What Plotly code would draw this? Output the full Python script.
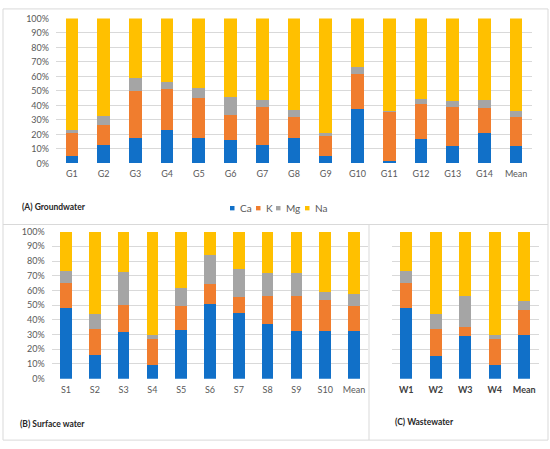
import plotly.graph_objects as go

# ----------------------------
# Data (percent share of each cation)
# ----------------------------
ions = ["Ca", "K", "Mg", "Na"]
colors = {"Ca": "#1170C8", "K": "#F07D2E", "Mg": "#A5A5A5", "Na": "#FFC000"}

gw_sites = ["G1", "G2", "G3", "G4", "G5", "G6", "G7", "G8", "G9", "G10",
            "G11", "G12", "G13", "G14", "Mean"]
gw_ca = [5.4, 12.5, 17.7, 22.9, 17.3, 15.9, 12.6, 17.3, 5.4, 37.2, 1.6, 17.0, 12.1, 21.0, 12.3]
gw_k = [15.6, 14.2, 32.1, 28.4, 27.5, 17.5, 26.2, 15.0, 13.6, 24.5, 33.8, 23.8, 26.9, 17.1, 19.5]
gw_mg = [2.0, 5.8, 9.2, 5.0, 7.4, 12.1, 5.1, 4.7, 2.0, 5.1, 0.9, 3.8, 4.0, 5.6, 4.3]
gw_na = [77.0, 67.5, 41.0, 43.7, 47.8, 54.5, 56.1, 63.0, 79.0, 33.2, 63.7, 55.4, 57.0, 56.3, 63.9]

sw_sites = ["S1", "S2", "S3", "S4", "S5", "S6", "S7", "S8", "S9", "S10", "Mean"]
sw_ca = [48.0, 15.9, 31.6, 9.5, 33.4, 50.7, 44.7, 36.9, 32.1, 32.5, 32.3]
sw_k = [16.8, 17.9, 18.6, 17.3, 15.9, 13.5, 11.1, 19.3, 24.1, 21.3, 17.0]
sw_mg = [8.7, 10.2, 22.4, 2.8, 12.4, 20.1, 19.0, 15.5, 15.5, 4.8, 8.2]
sw_na = [26.5, 56.0, 27.4, 70.4, 38.3, 15.7, 25.2, 28.3, 28.3, 41.4, 42.5]

ww_sites = ["W1", "W2", "W3", "W4", "Mean"]
ww_ca = [48.0, 15.5, 29.2, 9.5, 29.6]
ww_k = [16.8, 18.3, 6.2, 17.3, 16.9]
ww_mg = [8.4, 10.0, 20.6, 2.8, 6.4]
ww_na = [26.8, 56.2, 44.0, 70.4, 47.1]

panels = [
    ("x", "y", gw_sites, [gw_ca, gw_k, gw_mg, gw_na]),
    ("x2", "y2", sw_sites, [sw_ca, sw_k, sw_mg, sw_na]),
    ("x3", "y3", ww_sites, [ww_ca, ww_k, ww_mg, ww_na]),
]

# ----------------------------
# Traces
# ----------------------------
fig = go.Figure()
for xa, ya, sites, series in panels:
    for ion, vals in zip(ions, series):
        fig.add_trace(go.Bar(
            x=sites, y=vals, name=ion, xaxis=xa, yaxis=ya,
            marker=dict(color=colors[ion], line=dict(width=0)),
            showlegend=False,
        ))

W, H = 550, 449
def px_x(p):
    return p / W
def px_y(p):
    return 1 - p / H

tick_font = dict(family="Lato, sans-serif", size=9, color="#595959")
grid = "#D9D9D9"

yaxis_common = dict(range=[0, 100], dtick=10, ticksuffix="%", showgrid=True,
                    gridcolor=grid, gridwidth=1, zeroline=False, showline=False,
                    tickfont=tick_font, ticklabelstandoff=6, fixedrange=True)
xaxis_common = dict(showgrid=False, zeroline=False, showline=False,
                    tickfont=tick_font, ticklabelstandoff=4, fixedrange=True)

fig.update_layout(
    width=W, height=H,
    margin=dict(l=0, r=0, t=0, b=0),
    paper_bgcolor="white", plot_bgcolor="white",
    barmode="stack",
    bargap=0.6,
    font=dict(family="Lato, sans-serif", color="#595959"),
    xaxis=dict(domain=[px_x(56), px_x(532)], anchor="y", **xaxis_common),
    yaxis=dict(domain=[px_y(161.3), px_y(12.7)], anchor="x", **yaxis_common),
    xaxis2=dict(domain=[px_x(51.6), px_x(368.4)], anchor="y2", **xaxis_common),
    yaxis2=dict(domain=[px_y(382), px_y(231.3)], anchor="x2", **yaxis_common),
    xaxis3=dict(domain=[px_x(391.5), px_x(539)], anchor="y3",
                **{**xaxis_common,
                   "tickfont": dict(family="Lato, sans-serif", size=9,
                                    color="#404040", weight="bold")}),
    yaxis3=dict(domain=[px_y(382), px_y(231.3)], anchor="x3",
                **{**yaxis_common, "showticklabels": False}),
)

# Legend (compact, Excel style): small squares + labels
legend_x = [230, 256, 276, 305]
for ion, lx in zip(ions, legend_x):
    fig.add_shape(type="rect", xref="paper", yref="paper",
                  x0=px_x(lx), x1=px_x(lx + 4.5), y0=px_y(209.5), y1=px_y(205),
                  line=dict(width=0), fillcolor=colors[ion])
    fig.add_annotation(text=ion, xref="paper", yref="paper",
                       x=px_x(lx + 7.5), y=px_y(207.3), xanchor="left",
                       yanchor="middle", showarrow=False,
                       font=dict(family="Lato, sans-serif", size=10, color="#595959"))

# Panel labels
for text, x, y in [("(A) Groundwater", 20, 206),
                   ("(B) Surface water", 18, 428),
                   ("(C) Wastewater", 393, 426)]:
    fig.add_annotation(text=f"<b>{text}</b>", xref="paper", yref="paper",
                       x=px_x(x), y=px_y(y), xanchor="left", yanchor="middle",
                       showarrow=False,
                       font=dict(family="Lato, sans-serif", size=8.5, color="#262626"))

# Panel frames
frame = dict(color="#D9D9D9", width=1)
fig.add_shape(type="rect", xref="paper", yref="paper",
              x0=px_x(3), x1=px_x(548), y0=px_y(445), y1=px_y(3), line=frame)
fig.add_shape(type="line", xref="paper", yref="paper",
              x0=px_x(3), x1=px_x(548), y0=px_y(224), y1=px_y(224), line=frame)
fig.add_shape(type="line", xref="paper", yref="paper",
              x0=px_x(369), x1=px_x(369), y0=px_y(445), y1=px_y(224), line=frame)

# remove the default page margin so the figure sits at the window origin
fig.write_html("out.html",
               config={"displayModeBar": False},
               post_script="document.body.style.margin='0';"
                           "document.body.style.overflow='hidden';")
